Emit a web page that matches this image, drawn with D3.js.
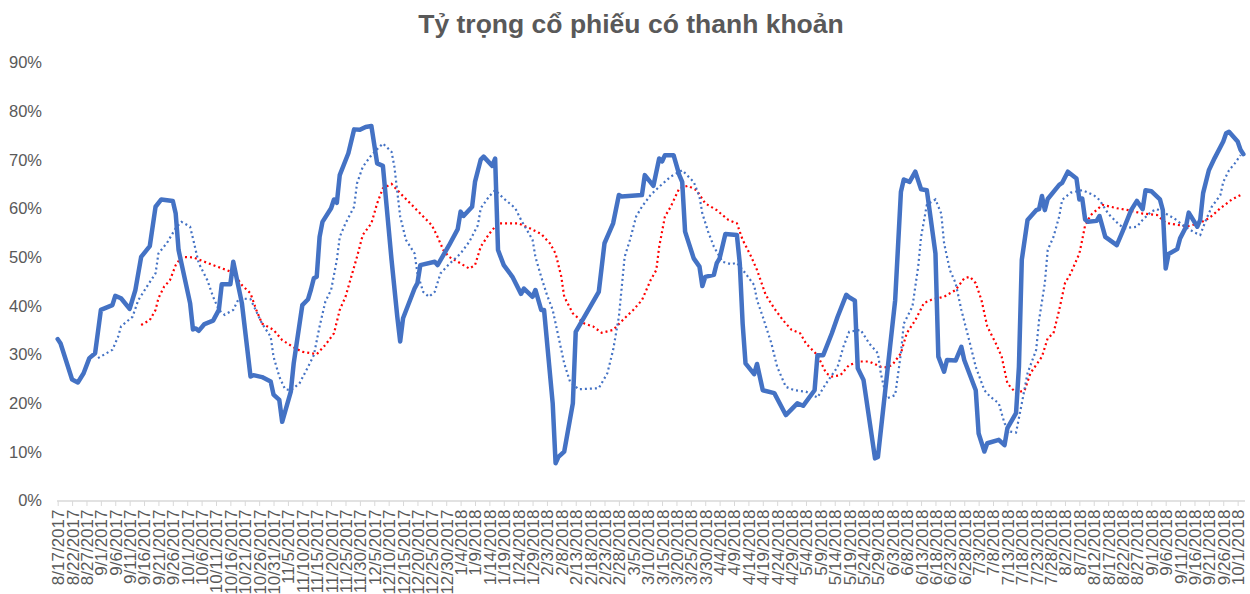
<!DOCTYPE html>
<meta charset="utf-8">
<style>
body {
  margin: 0;
  background: #fff;
}
svg {
  font-family: "Liberation Sans", Arial, sans-serif;
}
.axis text {
  fill: #595959;
}
.axis line {
  stroke: #d9d9d9;
}
</style>
<body>
<script src="https://d3js.org/d3.v7.min.js"></script>
<script>

var width = 1250,
    height = 594;

var title = "Tỷ trọng cổ phiếu có thanh khoản";

var yTicks = [0, 10, 20, 30, 40, 50, 60, 70, 80, 90];

var tickLabels = ["8/17/2017","8/22/2017","8/27/2017","9/1/2017","9/6/2017","9/11/2017","9/16/2017","9/21/2017","9/26/2017",
  "10/1/2017","10/6/2017","10/11/2017","10/16/2017","10/21/2017","10/26/2017","10/31/2017","11/5/2017","11/10/2017",
  "11/15/2017","11/20/2017","11/25/2017","11/30/2017","12/5/2017","12/10/2017","12/15/2017","12/20/2017","12/25/2017",
  "12/30/2017","1/4/2018","1/9/2018","1/14/2018","1/19/2018","1/24/2018","1/29/2018","2/3/2018","2/8/2018","2/13/2018",
  "2/18/2018","2/23/2018","2/28/2018","3/5/2018","3/10/2018","3/15/2018","3/20/2018","3/25/2018","3/30/2018","4/4/2018",
  "4/9/2018","4/14/2018","4/19/2018","4/24/2018","4/29/2018","5/4/2018","5/9/2018","5/14/2018","5/19/2018","5/24/2018",
  "5/29/2018","6/3/2018","6/8/2018","6/13/2018","6/18/2018","6/23/2018","6/28/2018","7/3/2018","7/8/2018","7/13/2018",
  "7/18/2018","7/23/2018","7/28/2018","8/2/2018","8/7/2018","8/12/2018","8/17/2018","8/22/2018","8/27/2018","9/1/2018",
  "9/6/2018","9/11/2018","9/16/2018","9/21/2018","9/26/2018","10/1/2018"];

// solid line: daily share (%)
var share = [["8/17/2017",33.2],["8/18/2017",32.3],["8/22/2017",24.9],["8/24/2017",24.3],["8/26/2017",26.2],
  ["8/28/2017",29.3],["8/30/2017",30.3],["9/1/2017",39.2],["9/5/2017",40.2],["9/6/2017",42.1],["9/8/2017",41.6],
  ["9/11/2017",39.4],["9/13/2017",43.3],["9/15/2017",50.1],["9/18/2017",52.3],["9/20/2017",60.4],["9/22/2017",61.9],
  ["9/26/2017",61.6],["9/27/2017",59.0],["9/28/2017",51.5],["10/2/2017",40.6],["10/3/2017",35.2],["10/4/2017",35.4],
  ["10/5/2017",34.9],["10/7/2017",36.3],["10/10/2017",37.0],["10/12/2017",39.2],["10/13/2017",44.5],["10/16/2017",44.5],
  ["10/17/2017",49.1],["10/20/2017",40.6],["10/23/2017",25.5],["10/24/2017",25.8],["10/27/2017",25.4],["10/30/2017",24.5],
  ["10/31/2017",21.8],["11/2/2017",20.7],["11/3/2017",16.2],["11/6/2017",22.4],["11/7/2017",28.2],["11/10/2017",40.2],
  ["11/12/2017",41.4],["11/13/2017",43.4],["11/14/2017",45.7],["11/15/2017",46.0],["11/16/2017",54.2],["11/17/2017",57.3],
  ["11/20/2017",60.1],["11/21/2017",61.9],["11/22/2017",61.2],["11/23/2017",66.9],["11/26/2017",71.4],["11/28/2017",76.3],
  ["11/30/2017",76.2],["12/2/2017",76.8],["12/4/2017",77.0],["12/6/2017",69.3],["12/8/2017",68.8],["12/11/2017",49.5],
  ["12/13/2017",37.8],["12/14/2017",32.7],["12/15/2017",37.5],["12/19/2017",43.6],["12/20/2017",44.7],["12/21/2017",48.4],
  ["12/26/2017",49.1],["12/27/2017",48.4],["12/31/2017",52.5],["1/3/2018",55.8],["1/4/2018",59.4],["1/5/2018",58.5],
  ["1/8/2018",60.4],["1/9/2018",65.5],["1/11/2018",70.1],["1/12/2018",70.7],["1/15/2018",68.8],["1/16/2018",70.3],
  ["1/17/2018",51.5],["1/19/2018",48.4],["1/22/2018",46.0],["1/25/2018",42.5],["1/26/2018",43.6],["1/29/2018",41.9],
  ["1/30/2018",43.3],["2/1/2018",39.2],["2/2/2018",39.2],["2/5/2018",20.0],["2/6/2018",7.7],["2/7/2018",9.0],
  ["2/9/2018",10.1],["2/12/2018",20.0],["2/13/2018",34.7],["2/21/2018",42.9],["2/23/2018",52.9],["2/26/2018",57.0],
  ["2/28/2018",62.8],["3/1/2018",62.5],["3/8/2018",62.8],["3/9/2018",66.9],["3/12/2018",64.7],["3/14/2018",70.3],
  ["3/15/2018",69.7],["3/16/2018",71.0],["3/19/2018",71.0],["3/21/2018",66.9],["3/22/2018",65.5],["3/23/2018",55.3],
  ["3/26/2018",49.8],["3/28/2018",48.1],["3/29/2018",44.1],["3/30/2018",46.0],["4/2/2018",46.4],["4/3/2018",48.8],
  ["4/4/2018",49.8],["4/6/2018",54.8],["4/10/2018",54.6],["4/11/2018",48.8],["4/12/2018",36.4],["4/13/2018",28.2],
  ["4/16/2018",26.0],["4/17/2018",28.1],["4/19/2018",22.7],["4/23/2018",22.1],["4/27/2018",17.6],["5/1/2018",20.0],
  ["5/3/2018",19.5],["5/7/2018",22.7],["5/8/2018",29.9],["5/10/2018",29.9],["5/13/2018",34.4],["5/15/2018",37.8],
  ["5/18/2018",42.3],["5/19/2018",41.8],["5/21/2018",41.1],["5/22/2018",27.2],["5/24/2018",24.8],["5/28/2018",8.7],
  ["5/29/2018",9.0],["6/4/2018",41.2],["6/6/2018",63.5],["6/7/2018",66.0],["6/9/2018",65.5],["6/11/2018",67.6],
  ["6/13/2018",64.0],["6/15/2018",63.8],["6/18/2018",50.8],["6/19/2018",29.6],["6/21/2018",26.5],["6/22/2018",28.9],
  ["6/25/2018",28.8],["6/27/2018",31.6],["6/28/2018",28.9],["7/2/2018",22.7],["7/3/2018",13.8],["7/5/2018",10.1],
  ["7/6/2018",11.8],["7/10/2018",12.5],["7/12/2018",11.4],["7/13/2018",14.9],["7/16/2018",18.0],["7/17/2018",27.5],
  ["7/18/2018",49.5],["7/20/2018",57.7],["7/23/2018",59.7],["7/24/2018",59.9],["7/25/2018",62.6],["7/26/2018",59.7],
  ["7/27/2018",62.0],["7/31/2018",64.9],["8/1/2018",65.3],["8/3/2018",67.6],["8/6/2018",66.2],["8/7/2018",61.9],
  ["8/8/2018",62.1],["8/9/2018",57.8],["8/10/2018",57.3],["8/13/2018",57.5],["8/14/2018",58.5],["8/16/2018",54.2],
  ["8/20/2018",52.5],["8/22/2018",55.3],["8/25/2018",59.7],["8/27/2018",61.6],["8/29/2018",59.9],["8/30/2018",63.8],
  ["9/1/2018",63.6],["9/4/2018",61.9],["9/5/2018",59.7],["9/6/2018",47.7],["9/7/2018",50.7],["9/10/2018",51.7],
  ["9/11/2018",53.9],["9/13/2018",56.2],["9/14/2018",59.2],["9/17/2018",56.3],["9/18/2018",57.7],["9/19/2018",63.2],
  ["9/21/2018",67.9],["9/23/2018",70.4],["9/26/2018",73.8],["9/27/2018",75.5],["9/28/2018",75.8],["10/1/2018",73.8],
  ["10/2/2018",72.1],["10/3/2018",71.2]];

// blue dotted: short average
var avgShort = [["8/31/2017",29.3],["9/5/2017",31.0],["9/7/2017",33.7],["9/8/2017",35.8],["9/12/2017",37.8],
  ["9/14/2017",41.2],["9/17/2017",44.0],["9/20/2017",46.7],["9/21/2017",50.8],["9/24/2017",53.0],["9/27/2017",56.0],
  ["9/29/2017",57.3],["10/2/2017",56.3],["10/3/2017",53.9],["10/5/2017",48.8],["10/8/2017",45.3],["10/10/2017",41.9],
  ["10/12/2017",39.2],["10/14/2017",38.2],["10/17/2017",39.2],["10/19/2017",41.6],["10/23/2017",41.4],["10/27/2017",36.4],
  ["10/30/2017",33.7],["10/31/2017",29.6],["11/2/2017",25.5],["11/4/2017",22.9],["11/6/2017",22.7],["11/9/2017",24.1],
  ["11/12/2017",27.5],["11/14/2017",29.9],["11/16/2017",35.8],["11/18/2017",40.9],["11/20/2017",43.3],["11/22/2017",49.5],
  ["11/23/2017",54.2],["11/25/2017",57.0],["11/28/2017",60.4],["11/29/2017",65.2],["12/1/2017",68.6],["12/4/2017",71.0],
  ["12/8/2017",73.4],["12/11/2017",71.7],["12/12/2017",68.6],["12/13/2017",63.5],["12/14/2017",58.4],["12/16/2017",53.6],
  ["12/19/2017",50.8],["12/20/2017",46.7],["12/22/2017",42.9],["12/24/2017",41.9],["12/26/2017",42.9],["12/28/2017",46.7],
  ["12/31/2017",48.6],["1/4/2018",50.8],["1/7/2018",53.2],["1/10/2018",56.6],["1/11/2018",60.1],["1/14/2018",62.6],
  ["1/16/2018",63.8],["1/19/2018",62.1],["1/23/2018",60.1],["1/25/2018",57.7],["1/29/2018",53.6],["1/30/2018",50.1],
  ["2/1/2018",46.0],["2/3/2018",42.3],["2/5/2018",39.2],["2/7/2018",33.7],["2/9/2018",28.2],["2/11/2018",24.5],
  ["2/14/2018",22.9],["2/21/2018",23.1],["2/24/2018",26.2],["2/26/2018",31.0],["2/28/2018",37.8],["3/2/2018",50.1],
  ["3/4/2018",53.9],["3/6/2018",58.4],["3/8/2018",60.4],["3/11/2018",62.8],["3/14/2018",64.5],["3/18/2018",66.6],
  ["3/22/2018",67.9],["3/26/2018",65.5],["3/28/2018",62.5],["3/29/2018",59.0],["3/31/2018",55.3],["4/2/2018",52.2],
  ["4/5/2018",49.1],["4/8/2018",48.6],["4/10/2018",48.9],["4/13/2018",46.7],["4/16/2018",44.3],["4/17/2018",41.2],
  ["4/19/2018",37.8],["4/22/2018",32.3],["4/24/2018",27.5],["4/27/2018",23.4],["4/30/2018",22.7],["5/4/2018",22.4],
  ["5/8/2018",21.2],["5/11/2018",24.1],["5/15/2018",27.5],["5/17/2018",31.6],["5/19/2018",34.7],["5/23/2018",35.1],
  ["5/26/2018",32.3],["5/29/2018",30.3],["5/30/2018",26.2],["6/1/2018",21.0],["6/4/2018",21.7],["6/6/2018",30.3],
  ["6/7/2018",36.4],["6/10/2018",39.9],["6/12/2018",48.1],["6/13/2018",54.2],["6/15/2018",60.8],["6/18/2018",61.9],
  ["6/20/2018",59.0],["6/21/2018",52.9],["6/23/2018",47.4],["6/25/2018",44.7],["6/27/2018",39.2],["6/30/2018",32.3],
  ["7/2/2018",27.5],["7/5/2018",22.7],["7/7/2018",21.4],["7/10/2018",20.0],["7/12/2018",15.9],["7/14/2018",14.2],
  ["7/16/2018",14.0],["7/18/2018",20.0],["7/20/2018",26.2],["7/23/2018",31.0],["7/24/2018",37.1],["7/26/2018",44.7],
  ["7/27/2018",51.5],["7/29/2018",54.2],["7/31/2018",58.4],["8/1/2018",61.8],["8/4/2018",63.3],["8/8/2018",63.8],
  ["8/12/2018",62.8],["8/14/2018",61.8],["8/17/2018",59.0],["8/21/2018",56.6],["8/23/2018",56.0],["8/27/2018",56.3],
  ["8/29/2018",57.7],["9/1/2018",59.4],["9/3/2018",59.9],["9/6/2018",59.0],["9/9/2018",58.0],["9/12/2018",56.6],
  ["9/16/2018",55.1],["9/18/2018",54.6],["9/20/2018",57.7],["9/22/2018",60.4],["9/25/2018",62.8],["9/26/2018",65.5],
  ["9/28/2018",67.9],["9/30/2018",69.3],["10/2/2018",71.0]];

// red dotted: long average
var avgLong = [["9/15/2017",36.1],["9/18/2017",37.1],["9/20/2017",39.2],["9/21/2017",41.6],["9/23/2017",44.0],
  ["9/25/2017",45.3],["9/27/2017",48.4],["9/29/2017",50.1],["10/3/2017",50.0],["10/7/2017",49.1],["10/11/2017",48.2],
  ["10/16/2017",47.1],["10/18/2017",46.0],["10/20/2017",44.3],["10/23/2017",42.6],["10/25/2017",39.2],["10/27/2017",36.4],
  ["10/31/2017",35.1],["11/3/2017",33.0],["11/7/2017",31.5],["11/10/2017",30.6],["11/15/2017",30.1],["11/18/2017",32.0],
  ["11/21/2017",34.4],["11/23/2017",39.2],["11/25/2017",41.9],["11/27/2017",46.0],["11/29/2017",50.1],["12/1/2017",54.6],
  ["12/4/2017",57.0],["12/6/2017",61.1],["12/8/2017",64.2],["12/11/2017",65.1],["12/14/2017",63.2],["12/17/2017",61.4],
  ["12/22/2017",58.4],["12/25/2017",56.6],["12/27/2017",54.2],["12/29/2017",51.5],["12/31/2017",50.1],["1/3/2018",49.1],
  ["1/7/2018",47.7],["1/9/2018",48.4],["1/11/2018",52.2],["1/14/2018",54.9],["1/17/2018",57.0],["1/24/2018",57.0],
  ["1/28/2018",56.0],["2/1/2018",54.8],["2/4/2018",52.9],["2/6/2018",50.8],["2/8/2018",46.0],["2/9/2018",41.9],
  ["2/12/2018",38.5],["2/16/2018",36.4],["2/19/2018",35.8],["2/22/2018",34.5],["2/26/2018",35.1],["3/2/2018",37.5],
  ["3/5/2018",39.2],["3/8/2018",41.2],["3/11/2018",45.3],["3/13/2018",47.4],["3/14/2018",52.2],["3/16/2018",58.4],
  ["3/18/2018",60.4],["3/21/2018",64.2],["3/24/2018",64.7],["3/27/2018",63.8],["3/30/2018",61.1],["4/3/2018",59.7],
  ["4/7/2018",57.7],["4/10/2018",57.0],["4/12/2018",53.6],["4/15/2018",50.1],["4/17/2018",47.4],["4/20/2018",42.3],
  ["4/23/2018",39.5],["4/26/2018",37.1],["4/29/2018",35.1],["5/2/2018",34.4],["5/4/2018",32.3],["5/8/2018",29.9],
  ["5/11/2018",26.2],["5/13/2018",25.5],["5/16/2018",25.8],["5/19/2018",27.9],["5/23/2018",28.6],["5/26/2018",28.6],
  ["5/30/2018",27.5],["6/1/2018",27.4],["6/3/2018",27.9],["6/6/2018",30.3],["6/8/2018",34.4],["6/11/2018",37.1],
  ["6/14/2018",40.6],["6/17/2018",41.4],["6/21/2018",41.9],["6/25/2018",43.3],["6/28/2018",45.7],["6/30/2018",46.0],
  ["7/2/2018",44.7],["7/4/2018",41.2],["7/6/2018",35.8],["7/9/2018",32.3],["7/11/2018",29.6],["7/13/2018",24.1],
  ["7/16/2018",22.1],["7/19/2018",22.7],["7/21/2018",26.2],["7/25/2018",29.6],["7/27/2018",33.4],["7/29/2018",34.4],
  ["7/31/2018",39.2],["8/2/2018",44.7],["8/4/2018",46.7],["8/7/2018",50.8],["8/8/2018",53.6],["8/9/2018",56.6],
  ["8/11/2018",58.7],["8/15/2018",60.8],["8/20/2018",60.1],["8/24/2018",59.7],["8/29/2018",59.0],["9/3/2018",58.7],
  ["9/6/2018",57.1],["9/11/2018",56.6],["9/13/2018",56.3],["9/17/2018",56.9],["9/20/2018",57.7],["9/22/2018",58.5],
  ["9/25/2018",60.1],["9/29/2018",61.9],["10/2/2018",62.8]];

var parse = d3.timeParse("%m/%d/%Y");

var x = d3.scaleTime()
    .domain([parse("8/17/2017"), parse("10/3/2018")])
    .range([57.7, 1243.4]);

var y = d3.scaleLinear()
    .domain([0, 90])
    .range([500.7, 62.7]);

var svg = d3.select("body").append("svg")
    .attr("width", width)
    .attr("height", height);

svg.append("text")
    .attr("x", 631)
    .attr("y", 33)
    .attr("text-anchor", "middle")
    .attr("font-size", "26.5px")
    .attr("font-weight", "bold")
    .attr("fill", "#595959")
    .text(title);

// y axis, labels only
var yAxis = svg.append("g")
    .attr("class", "axis")
    .attr("transform", "translate(57,0)")
    .call(d3.axisLeft(y).tickValues(yTicks).tickSize(0).tickPadding(15)
      .tickFormat(function(d){ return d + "%"; }));
yAxis.select(".domain").remove();
yAxis.selectAll("text").attr("font-size", "16.5px");

// x axis
var xAxis = svg.append("g")
    .attr("class", "axis")
    .attr("transform", "translate(0,501)")
    .call(d3.axisBottom(x)
      .tickValues(tickLabels.map(parse))
      .tickSize(5)
      .tickFormat(function(d, i){ return tickLabels[i]; }));
xAxis.select(".domain").remove();
xAxis.append("line")
    .attr("x1", 57).attr("x2", 1245)
    .attr("stroke", "#d9d9d9")
    .attr("stroke-width", 1.3);
xAxis.selectAll("text")
    .attr("font-size", "17px")
    .attr("text-anchor", "end")
    .attr("transform", "rotate(-90)")
    .attr("x", -8.5)
    .attr("y", 0)
    .attr("dy", "0.35em");

var line = d3.line()
    .x(function(d){ return x(parse(d[0])); })
    .y(function(d){ return y(d[1]); });

svg.append("path")
    .datum(avgLong)
    .attr("d", line)
    .attr("fill", "none")
    .attr("stroke", "#ff0000")
    .attr("stroke-width", 2.2)
    .attr("stroke-dasharray", "2,3");

svg.append("path")
    .datum(avgShort)
    .attr("d", line)
    .attr("fill", "none")
    .attr("stroke", "#4472c4")
    .attr("stroke-width", 2.2)
    .attr("stroke-dasharray", "2,3");

svg.append("path")
    .datum(share)
    .attr("d", line)
    .attr("fill", "none")
    .attr("stroke", "#4472c4")
    .attr("stroke-width", 4.5)
    .attr("stroke-linejoin", "round")
    .attr("stroke-linecap", "round");

</script>
